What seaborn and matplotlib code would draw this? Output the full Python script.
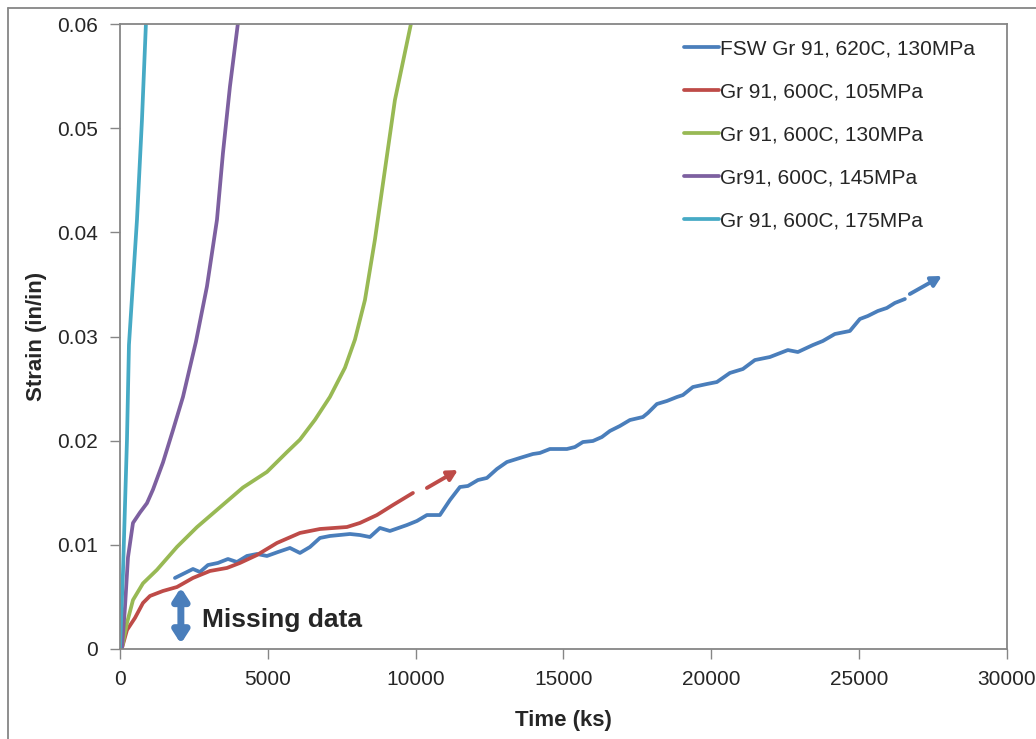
import matplotlib
matplotlib.use("Agg")
import matplotlib.pyplot as plt
import seaborn as sns
from matplotlib.lines import Line2D

# creep curves (time in ks, strain in in/in)
fsw_130_t = [1860, 2469, 2706, 2976, 3314, 3653, 3957, 4295, 4633, 4972, 5344, 5749,
             6088, 6426, 6764, 7102, 7779, 8117, 8455, 8793, 9131, 9706, 10045, 10383,
             10822, 11161, 11499, 11769, 12108, 12412, 12750, 13088, 13528, 13968, 14204,
             14543, 15118, 15388, 15659, 15997, 16301, 16572, 16910, 17248, 17688, 17857,
             18161, 18500, 18838, 19041, 19379, 19852, 20191, 20630, 21070, 21476, 21983,
             22592, 22930, 23437, 23775, 24181, 24689, 25027, 25297, 25636, 25940, 26211, 26549]
fsw_130_e = [0.00682, 0.00768, 0.00739, 0.00806, 0.00826, 0.00864, 0.00835, 0.00893, 0.00912,
             0.00893, 0.00931, 0.00970, 0.00922, 0.00979, 0.01066, 0.01085, 0.01104, 0.01094,
             0.01075, 0.01162, 0.01133, 0.01190, 0.01229, 0.01286, 0.01286, 0.01430, 0.01555,
             0.01565, 0.01622, 0.01642, 0.01728, 0.01795, 0.01834, 0.01872, 0.01882, 0.01920,
             0.01920, 0.01939, 0.01987, 0.01997, 0.02035, 0.02093, 0.02141, 0.02198, 0.02227,
             0.02266, 0.02352, 0.02381, 0.02419, 0.02438, 0.02515, 0.02544, 0.02563, 0.02650,
             0.02688, 0.02774, 0.02803, 0.02870, 0.02851, 0.02918, 0.02957, 0.03024, 0.03053,
             0.03168, 0.03197, 0.03245, 0.03274, 0.03322, 0.03360]

gr91_105_t = [0, 68, 237, 507, 778, 1015, 1454, 1928, 2469, 3044, 3619, 4058, 4633, 5310,
              6088, 6764, 7677, 8117, 8692, 9233, 9909]
gr91_105_e = [0, 0.0001, 0.00182, 0.00298, 0.00442, 0.00509, 0.00557, 0.00595, 0.00682,
              0.00749, 0.00778, 0.00826, 0.00902, 0.01018, 0.01114, 0.01152, 0.01171, 0.01210,
              0.01286, 0.01382, 0.01498]

gr91_130_t = [0, 68, 237, 440, 778, 1251, 1928, 2604, 3382, 4160, 4972, 5648, 6088, 6595,
              7102, 7610, 7948, 8286, 8624, 8962, 9300, 9841]
gr91_130_e = [0, 0.0001, 0.0025, 0.0047, 0.0063, 0.0076, 0.0098, 0.0117, 0.0136, 0.0155,
              0.0170, 0.0189, 0.0201, 0.0220, 0.0242, 0.0270, 0.0297, 0.0335, 0.0393, 0.0460,
              0.0527, 0.0600]

gr91_145_t = [0, 68, 169, 271, 440, 676, 913, 1116, 1454, 1792, 2131, 2570, 2942, 3281,
              3483, 3720, 3991]
gr91_145_e = [0, 0.0001, 0.0040, 0.0088, 0.0121, 0.0131, 0.0140, 0.0153, 0.0179, 0.0210,
              0.0242, 0.0295, 0.0348, 0.0412, 0.0476, 0.0540, 0.0601]

gr91_175_t = [0, 101, 237, 304, 575, 744, 879]
gr91_175_e = [0, 0.0073, 0.0201, 0.0292, 0.0412, 0.0508, 0.0601]

# extrapolation arrows (start, tip)
fsw_arrow_t = [26718, 27800]
fsw_arrow_e = [0.03408, 0.03581]
red_arrow_t = [10383, 11431]
red_arrow_e = [0.01546, 0.01718]

# missing data marker
missing_t = 2060
missing_e = [0.0059, 0.0005]

labels = ["FSW Gr 91, 620C, 130MPa", "Gr 91, 600C, 105MPa", "Gr 91, 600C, 130MPa",
          "Gr91, 600C, 145MPa", "Gr 91, 600C, 175MPa"]
colors = ["#4A7EBB", "#BE4B48", "#98B954", "#7D60A0", "#46AAC5"]

sns.set_style("white")
plt.rcParams['font.family'] = ['Liberation Sans', 'DejaVu Sans']

fig = plt.figure(figsize=(10.36, 7.39), dpi=100)
ax = fig.add_axes([0.1158, 0.1218, 0.8561, 0.8457])

series = [(fsw_130_t, fsw_130_e), (gr91_105_t, gr91_105_e), (gr91_130_t, gr91_130_e),
          (gr91_145_t, gr91_145_e), (gr91_175_t, gr91_175_e)]
for (t, e), lab, c in zip(series, labels, colors):
    sns.lineplot(x=t, y=e, ax=ax, color=c, linewidth=2.7, label=lab, sort=False,
                 solid_joinstyle="round", solid_capstyle="round")

# extrapolation arrows
for t, e, c in [(fsw_arrow_t, fsw_arrow_e, colors[0]), (red_arrow_t, red_arrow_e, colors[1])]:
    ax.annotate("", xy=(t[1], e[1]), xytext=(t[0], e[0]),
                arrowprops=dict(arrowstyle="-|>,head_length=0.6,head_width=0.32",
                                color=c, lw=2.8, shrinkA=0, shrinkB=0))

ax.annotate("", xy=(missing_t, missing_e[1]), xytext=(missing_t, missing_e[0]),
            arrowprops=dict(arrowstyle="<|-|>,head_length=0.7,head_width=0.45",
                            color=colors[0], lw=5, shrinkA=0, shrinkB=0))
ax.text(2780, 0.0028, "Missing data", fontsize=19, fontweight="bold", va="center", ha="left")

ax.set_xlim(0, 30000)
ax.set_ylim(0, 0.06)
ax.set_xticks(range(0, 30001, 5000))
ax.set_yticks([0, 0.01, 0.02, 0.03, 0.04, 0.05, 0.06])
ax.set_yticklabels(["0", "0.01", "0.02", "0.03", "0.04", "0.05", "0.06"])
ax.tick_params(axis="both", direction="out", length=7, width=1, color="#868686",
               labelsize=15, bottom=True, left=True)
ax.tick_params(axis="y", pad=9)
ax.tick_params(axis="x", pad=8)
for s in ax.spines.values():
    s.set_visible(True)
    s.set_color("#868686")
    s.set_linewidth(1.3)

ax.set_xlabel("Time (ks)", fontsize=16, fontweight="bold", labelpad=15)
ax.set_ylabel("Strain (in/in)", fontsize=16, fontweight="bold", labelpad=7)

ax.legend(loc="upper right", bbox_to_anchor=(0.985, 1.005), frameon=False, fontsize=15,
          handlelength=1.65, handletextpad=0.05, labelspacing=1.15)

# outer chart border
fig.add_artist(Line2D([8 / 1036, 8 / 1036], [0, 1 - 8 / 739], color="#868686", lw=1.3))
fig.add_artist(Line2D([8 / 1036, 1], [1 - 8 / 739, 1 - 8 / 739], color="#868686", lw=1.3))

plt.savefig("out.png", dpi=100)
